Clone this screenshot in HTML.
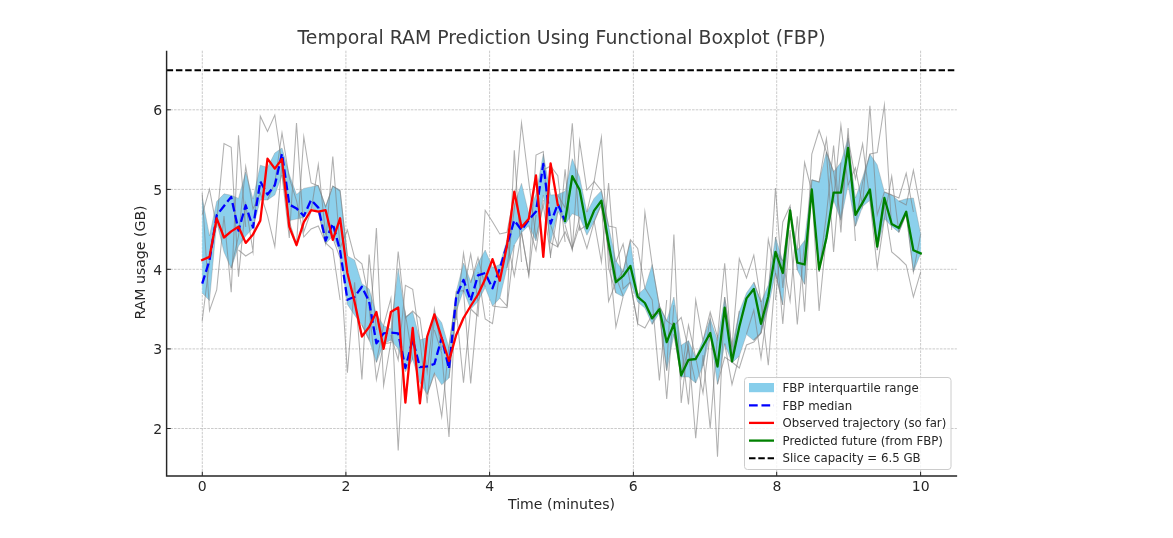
<!DOCTYPE html>
<html><head><meta charset="utf-8"><title>Temporal RAM Prediction</title>
<style>html,body{margin:0;padding:0;background:#fff;overflow:hidden}body{width:1173px;height:538px;position:relative}</style></head>
<body>
<svg width="1173" height="538" viewBox="0 0 1173 538" style="position:absolute;left:0;top:0;font-family:'DejaVu Sans','Liberation Sans',sans-serif">
<rect width="1173" height="538" fill="#fff"/>
<g stroke="#b4b4b4" stroke-width="0.7" stroke-dasharray="2.6 1.1" fill="none"><line x1="202.3" y1="50.7" x2="202.3" y2="475.9"/><line x1="345.9" y1="50.7" x2="345.9" y2="475.9"/><line x1="489.6" y1="50.7" x2="489.6" y2="475.9"/><line x1="633.4" y1="50.7" x2="633.4" y2="475.9"/><line x1="776.7" y1="50.7" x2="776.7" y2="475.9"/><line x1="920.6" y1="50.7" x2="920.6" y2="475.9"/><line x1="166.6" y1="428.5" x2="956.9" y2="428.5"/><line x1="166.6" y1="348.9" x2="956.9" y2="348.9"/><line x1="166.6" y1="269.3" x2="956.9" y2="269.3"/><line x1="166.6" y1="189.4" x2="956.9" y2="189.4"/><line x1="166.6" y1="109.8" x2="956.9" y2="109.8"/></g>
<polygon points="202.2,197.6 209.5,236.0 216.7,201.5 224.0,193.8 231.2,195.3 238.5,198.4 245.7,172.0 253.0,199.0 260.3,165.2 267.5,167.5 274.8,153.0 282.0,148.0 289.3,174.6 296.5,194.5 303.8,188.4 311.1,186.9 318.3,185.3 325.6,206.8 332.8,186.1 340.1,190.0 347.4,256.0 354.6,260.0 361.9,283.7 369.1,289.0 376.4,313.7 383.6,325.7 390.9,329.0 398.2,268.4 405.4,316.7 412.7,312.0 419.9,340.0 427.2,337.6 434.4,313.3 441.7,322.7 449.0,348.0 456.2,292.0 463.5,263.0 470.7,281.4 478.0,263.0 485.2,250.0 492.5,267.6 499.8,264.5 507.0,240.0 514.3,205.0 521.5,183.4 528.8,214.0 536.0,194.0 543.3,154.0 550.6,195.0 557.8,194.5 565.1,191.3 572.3,158.7 579.6,176.9 586.9,212.2 594.1,198.4 601.4,190.7 608.6,226.0 615.9,260.7 623.1,271.4 630.4,240.7 637.7,294.4 644.9,288.3 652.2,264.5 659.4,306.0 666.7,320.7 673.9,297.0 681.2,345.2 688.5,340.6 695.7,357.5 703.0,340.0 710.2,318.4 717.5,340.6 724.7,297.0 732.0,346.8 739.3,311.5 746.5,293.0 753.8,282.5 761.0,302.0 768.3,285.0 775.5,237.2 782.8,261.0 790.1,207.0 797.3,250.3 804.6,240.5 811.8,179.6 819.1,181.9 826.4,151.8 833.6,171.7 840.9,162.5 848.1,138.0 855.4,198.0 862.6,177.5 869.9,154.0 877.2,164.8 884.4,191.9 891.7,194.9 898.9,201.0 906.2,198.8 913.4,198.0 920.7,234.0 920.7,253.4 913.4,271.8 906.2,214.0 898.9,232.5 891.7,226.4 884.4,218.7 877.2,250.3 869.9,200.3 862.6,206.4 855.4,226.4 848.1,185.0 840.9,220.2 833.6,200.3 826.4,241.0 819.1,272.0 811.8,191.0 804.6,284.5 797.3,270.0 790.1,213.5 782.8,304.8 775.5,273.0 768.3,307.0 761.0,333.0 753.8,340.6 746.5,334.5 739.3,356.0 732.0,362.9 724.7,343.7 717.5,384.5 710.2,334.5 703.0,366.0 695.7,383.0 688.5,377.0 681.2,377.0 673.9,334.5 666.7,370.6 659.4,313.0 652.2,324.5 644.9,308.0 637.7,302.0 630.4,282.0 623.1,296.7 615.9,293.0 608.6,250.0 601.4,204.5 594.1,221.4 586.9,235.2 579.6,216.8 572.3,213.7 565.1,224.6 557.8,211.0 550.6,243.0 543.3,195.0 536.0,241.0 528.8,225.5 521.5,232.8 514.3,245.0 507.0,267.6 499.8,298.3 492.5,306.0 485.2,287.6 478.0,301.4 470.7,309.0 463.5,290.6 456.2,311.0 449.0,378.0 441.7,384.8 434.4,373.3 427.2,394.5 419.9,382.5 412.7,359.5 405.4,371.8 398.2,348.8 390.9,340.0 383.6,344.0 376.4,362.6 369.1,339.5 361.9,325.0 354.6,315.2 347.4,304.4 340.1,252.0 332.8,236.0 325.6,243.7 318.3,211.0 311.1,208.0 303.8,217.6 296.5,219.0 289.3,220.6 282.0,175.0 274.8,195.0 267.5,200.0 260.3,200.0 253.0,228.0 245.7,236.0 238.5,246.0 231.2,268.4 224.0,252.0 216.7,222.0 209.5,300.6 202.2,293.0" fill="#87ceeb" fill-opacity="0.96"/>
<g stroke="#808080" stroke-opacity="0.62" stroke-width="1.05" fill="none" stroke-linejoin="miter" stroke-miterlimit="10">
<polyline points="202.2,193.3 209.5,310.6 216.7,290.0 224.0,216.0 231.2,292.2 238.5,135.3 245.7,227.0"/>
<polyline points="202.2,214.6 209.5,189.2 216.7,227.7"/>
<polyline points="202.2,321.0 209.5,262.0 216.7,222.0"/>
<polyline points="216.7,222.0 224.0,143.6 231.2,147.3 238.5,276.8 245.7,204.4 253.0,251.5 260.3,116.2 267.5,131.5 274.8,115.0 282.0,164.0 289.3,205.0"/>
<polyline points="231.2,268.4 238.5,236.0 245.7,166.5 253.0,209.0 260.3,193.0 267.5,215.7 274.8,246.6 282.0,163.0 289.3,222.0"/>
<polyline points="238.5,250.0 245.7,256.0 253.0,251.5"/>
<polyline points="267.5,200.0 274.8,183.0 282.0,133.0 289.3,178.0 296.5,200.7 303.8,237.0 311.1,229.0 318.3,226.0 325.6,243.0 332.8,249.5 340.1,300.0"/>
<polyline points="282.0,175.0 289.3,238.0 296.5,123.1 303.8,232.0 311.1,211.0 318.3,164.6 325.6,234.5"/>
<polyline points="289.3,222.0 296.5,244.0 303.8,137.0 311.1,183.0 318.3,186.0 325.6,207.0 332.8,186.0 340.1,191.0 347.4,256.0"/>
<polyline points="318.3,212.0 325.6,243.5 332.8,156.6 340.1,248.0 347.4,230.0 354.6,257.6 361.9,263.8 369.1,300.0"/>
<polyline points="332.8,238.0 340.1,258.0 347.4,372.8 354.6,282.3 361.9,379.4 369.1,254.6 376.4,330.0"/>
<polyline points="361.9,325.0 369.1,340.0 376.4,228.0 383.6,385.6 390.9,342.0"/>
<polyline points="369.1,307.0 376.4,379.6 383.6,344.0"/>
<polyline points="376.4,362.0 383.6,325.7 390.9,298.3 398.2,450.5 405.4,314.0 412.7,359.5"/>
<polyline points="383.6,344.0 390.9,342.6 398.2,251.5 405.4,318.0 412.7,311.0 419.9,318.0 427.2,372.0 434.4,309.0 441.7,350.0"/>
<polyline points="390.9,335.0 398.2,360.0 405.4,285.3 412.7,289.4 419.9,340.0 427.2,403.3 434.4,318.0"/>
<polyline points="427.2,394.5 434.4,373.5 441.7,416.5 449.0,345.0 456.2,296.0"/>
<polyline points="434.4,330.0 441.7,353.0 449.0,437.0 456.2,291.7 463.5,290.6 470.7,383.4 478.0,301.4"/>
<polyline points="449.0,378.0 456.2,309.0 463.5,382.6 470.7,309.0 478.0,316.0 485.2,210.3 492.5,221.8 499.8,234.0 507.0,232.2 514.3,195.0"/>
<polyline points="456.2,320.0 463.5,253.2 470.7,300.0"/>
<polyline points="463.5,292.0 470.7,254.0 478.0,301.0"/>
<polyline points="470.7,283.0 478.0,257.5 485.2,287.0"/>
<polyline points="478.0,272.0 485.2,319.0 492.5,323.6 499.8,272.0"/>
<polyline points="492.5,306.0 499.8,307.0 507.0,307.6 514.3,245.0"/>
<polyline points="499.8,298.0 507.0,306.0 514.3,150.3 521.5,262.0"/>
<polyline points="507.0,268.0 514.3,209.0 521.5,123.0 528.8,182.0 536.0,238.0 543.3,205.0 550.6,255.3 557.8,212.0"/>
<polyline points="507.0,240.0 514.3,275.9 521.5,232.0 528.8,275.0 536.0,215.0"/>
<polyline points="521.5,233.0 528.8,275.3 536.0,155.0 543.3,151.5 550.6,258.0"/>
<polyline points="528.8,226.0 536.0,250.5 543.3,200.0"/>
<polyline points="543.3,170.0 550.6,166.0 557.8,175.8 565.1,242.0"/>
<polyline points="550.6,225.0 557.8,246.5 565.1,231.8 572.3,248.5 579.6,225.7 586.9,248.5 594.1,222.0 601.4,204.5 608.6,250.0"/>
<polyline points="550.6,243.0 557.8,247.0 565.1,169.3 572.3,248.4 579.6,217.0"/>
<polyline points="557.8,195.0 565.1,207.8 572.3,123.4 579.6,230.0 586.9,225.0"/>
<polyline points="565.1,225.0 572.3,250.0 579.6,141.0 586.9,190.0 594.1,181.5 601.4,137.2 608.6,268.0 615.9,293.0"/>
<polyline points="594.1,221.0 601.4,262.0 608.6,183.0 615.9,277.0 623.1,296.0"/>
<polyline points="586.9,212.0 594.1,181.5 601.4,190.7 608.6,226.0 615.9,227.6 623.1,289.0 630.4,282.0"/>
<polyline points="601.4,204.5 608.6,301.4 615.9,282.0 623.1,271.0"/>
<polyline points="601.4,200.0 608.6,250.0 615.9,327.0 623.1,296.7"/>
<polyline points="615.9,262.0 623.1,244.0 630.4,284.0 637.7,324.0 644.9,328.0 652.2,314.8 659.4,313.0"/>
<polyline points="623.1,272.0 630.4,239.7 637.7,248.5 644.9,288.0 652.2,300.0 659.4,380.5 666.7,300.0"/>
<polyline points="630.4,283.0 637.7,323.0 644.9,212.3 652.2,265.0 659.4,306.0 666.7,321.0 673.9,326.0 681.2,317.5 688.5,350.0 695.7,383.0"/>
<polyline points="652.2,324.0 659.4,305.0 666.7,399.0 673.9,305.0"/>
<polyline points="659.4,313.0 666.7,370.6 673.9,234.5 681.2,403.0 688.5,341.0"/>
<polyline points="673.9,334.0 681.2,377.0 688.5,325.3 695.7,357.5 703.0,393.0 710.2,334.0"/>
<polyline points="681.2,345.0 688.5,404.5 695.7,300.0 703.0,341.0 710.2,312.0 717.5,337.0 724.7,263.3 732.0,357.0 739.3,311.0"/>
<polyline points="681.2,377.0 688.5,347.0 695.7,438.3 703.0,355.0 710.2,428.4 717.5,335.0"/>
<polyline points="703.0,366.0 710.2,318.0 717.5,456.8 724.7,297.0 732.0,347.0 739.3,258.7 746.5,278.0 753.8,255.2 761.0,302.0"/>
<polyline points="717.5,384.0 724.7,357.0 732.0,362.0 739.3,368.0 746.5,345.0 753.8,342.0 761.0,333.0"/>
<polyline points="724.7,343.7 732.0,384.5 739.3,356.0"/>
<polyline points="746.5,334.0 753.8,310.0 761.0,358.2 768.3,300.0"/>
<polyline points="753.8,282.0 761.0,302.0 768.3,365.2 775.5,273.0"/>
<polyline points="753.8,340.0 761.0,333.0 768.3,239.5 775.5,273.0 782.8,304.8"/>
<polyline points="761.0,333.0 768.3,300.0 775.5,188.0 782.8,288.0 790.1,213.0"/>
<polyline points="775.5,300.0 782.8,222.0 790.1,205.7 797.3,270.0"/>
<polyline points="775.5,237.0 782.8,324.0 790.1,230.0 797.3,324.5 804.6,240.5"/>
<polyline points="775.5,251.0 782.8,261.0 790.1,301.0 797.3,216.4 804.6,311.7 811.8,180.0"/>
<polyline points="797.3,250.0 804.6,162.5 811.8,191.0 819.1,311.0 826.4,235.0"/>
<polyline points="804.6,284.0 811.8,154.0 819.1,130.3 826.4,151.8 833.6,251.9 840.9,162.5"/>
<polyline points="811.8,180.0 819.1,182.0 826.4,138.7 833.6,200.0 840.9,125.0 848.1,185.0"/>
<polyline points="819.1,272.0 826.4,215.0 833.6,145.6 840.9,232.5 848.1,128.0 855.4,241.0"/>
<polyline points="826.4,152.0 833.6,171.7 840.9,220.0 848.1,138.0 855.4,178.8 862.6,144.0 869.9,200.0"/>
<polyline points="848.1,185.0 855.4,167.9 862.6,206.0 869.9,105.7 877.2,215.0 884.4,192.0"/>
<polyline points="855.4,226.0 862.6,182.0 869.9,154.0 877.2,152.5 884.4,105.0 891.7,230.0"/>
<polyline points="869.9,200.0 877.2,268.0 884.4,218.7 891.7,176.4 898.9,232.5"/>
<polyline points="877.2,250.0 884.4,205.0 891.7,251.9 898.9,258.0 906.2,265.0 913.4,297.0 920.7,271.8"/>
<polyline points="884.4,192.0 891.7,195.0 898.9,198.0 906.2,173.3 913.4,212.0"/>
<polyline points="898.9,201.0 906.2,205.0 913.4,170.3 920.7,209.5"/>
<polyline points="898.9,232.0 906.2,214.0 913.4,271.8 920.7,234.0"/>
</g>
<g stroke="#808080" stroke-opacity="0.32" stroke-width="1" fill="none">
<polyline points="202.2,197.6 209.5,236.0 216.7,201.5 224.0,193.8 231.2,195.3 238.5,198.4 245.7,172.0 253.0,199.0 260.3,165.2 267.5,167.5 274.8,153.0 282.0,148.0 289.3,174.6 296.5,194.5 303.8,188.4 311.1,186.9 318.3,185.3 325.6,206.8 332.8,186.1 340.1,190.0 347.4,256.0 354.6,260.0 361.9,283.7 369.1,289.0 376.4,313.7 383.6,325.7 390.9,329.0 398.2,268.4 405.4,316.7 412.7,312.0 419.9,340.0 427.2,337.6 434.4,313.3 441.7,322.7 449.0,348.0 456.2,292.0 463.5,263.0 470.7,281.4 478.0,263.0 485.2,250.0 492.5,267.6 499.8,264.5 507.0,240.0 514.3,205.0 521.5,183.4 528.8,214.0 536.0,194.0 543.3,154.0 550.6,195.0 557.8,194.5 565.1,191.3 572.3,158.7 579.6,176.9 586.9,212.2 594.1,198.4 601.4,190.7 608.6,226.0 615.9,260.7 623.1,271.4 630.4,240.7 637.7,294.4 644.9,288.3 652.2,264.5 659.4,306.0 666.7,320.7 673.9,297.0 681.2,345.2 688.5,340.6 695.7,357.5 703.0,340.0 710.2,318.4 717.5,340.6 724.7,297.0 732.0,346.8 739.3,311.5 746.5,293.0 753.8,282.5 761.0,302.0 768.3,285.0 775.5,237.2 782.8,261.0 790.1,207.0 797.3,250.3 804.6,240.5 811.8,179.6 819.1,181.9 826.4,151.8 833.6,171.7 840.9,162.5 848.1,138.0 855.4,198.0 862.6,177.5 869.9,154.0 877.2,164.8 884.4,191.9 891.7,194.9 898.9,201.0 906.2,198.8 913.4,198.0 920.7,234.0"/>
<polyline points="202.2,293.0 209.5,300.6 216.7,222.0 224.0,252.0 231.2,268.4 238.5,246.0 245.7,236.0 253.0,228.0 260.3,200.0 267.5,200.0 274.8,195.0 282.0,175.0 289.3,220.6 296.5,219.0 303.8,217.6 311.1,208.0 318.3,211.0 325.6,243.7 332.8,236.0 340.1,252.0 347.4,304.4 354.6,315.2 361.9,325.0 369.1,339.5 376.4,362.6 383.6,344.0 390.9,340.0 398.2,348.8 405.4,371.8 412.7,359.5 419.9,382.5 427.2,394.5 434.4,373.3 441.7,384.8 449.0,378.0 456.2,311.0 463.5,290.6 470.7,309.0 478.0,301.4 485.2,287.6 492.5,306.0 499.8,298.3 507.0,267.6 514.3,245.0 521.5,232.8 528.8,225.5 536.0,241.0 543.3,195.0 550.6,243.0 557.8,211.0 565.1,224.6 572.3,213.7 579.6,216.8 586.9,235.2 594.1,221.4 601.4,204.5 608.6,250.0 615.9,293.0 623.1,296.7 630.4,282.0 637.7,302.0 644.9,308.0 652.2,324.5 659.4,313.0 666.7,370.6 673.9,334.5 681.2,377.0 688.5,377.0 695.7,383.0 703.0,366.0 710.2,334.5 717.5,384.5 724.7,343.7 732.0,362.9 739.3,356.0 746.5,334.5 753.8,340.6 761.0,333.0 768.3,307.0 775.5,273.0 782.8,304.8 790.1,213.5 797.3,270.0 804.6,284.5 811.8,191.0 819.1,272.0 826.4,241.0 833.6,200.3 840.9,220.2 848.1,185.0 855.4,226.4 862.6,206.4 869.9,200.3 877.2,250.3 884.4,218.7 891.7,226.4 898.9,232.5 906.2,214.0 913.4,271.8 920.7,253.4"/>
</g>
<polyline points="202.2,283.7 209.5,260.3 216.7,215.3 224.0,206.0 231.2,196.9 238.5,230.6 245.7,205.3 253.0,227.5 260.3,181.5 267.5,194.5 274.8,185.3 282.0,153.7 289.3,204.5 296.5,208.4 303.8,216.0 311.1,199.9 318.3,207.6 325.6,240.6 332.8,223.7 340.1,250.7 347.4,299.8 354.6,296.8 361.9,286.8 369.1,301.4 376.4,343.4 383.6,333.4 390.9,332.6 398.2,333.4 405.4,368.0 412.7,339.5 419.9,367.2 427.2,366.4 434.4,364.0 441.7,338.0 449.0,368.7 456.2,296.8 463.5,279.9 470.7,300.6 478.0,275.3 485.2,273.0 492.5,288.3 499.8,268.4 507.0,245.0 514.3,220.4 521.5,230.0 528.8,220.0 536.0,211.5 543.3,164.0 550.6,223.5 557.8,204.0 565.1,221.0" fill="none" stroke="#0000ff" stroke-width="2.3" stroke-dasharray="8.7 3.76" stroke-linejoin="round"/>
<polyline points="202.2,260.0 209.5,256.9 216.7,218.3 224.0,237.5 231.2,231.4 238.5,226.8 245.7,242.9 253.0,234.4 260.3,220.6 267.5,158.6 274.8,168.6 282.0,159.0 289.3,226.8 296.5,245.2 303.8,222.2 311.1,210.2 318.3,211.7 325.6,210.2 332.8,239.8 340.1,218.3 347.4,273.0 354.6,302.0 361.9,336.5 369.1,327.0 376.4,312.0 383.6,348.8 390.9,312.0 398.2,307.5 405.4,402.6 412.7,328.0 419.9,403.4 427.2,336.5 434.4,314.4 441.7,338.0 449.0,361.0 456.2,335.0 463.5,318.0 470.7,306.0 478.0,294.5 485.2,279.0 492.5,259.2 499.8,280.7 507.0,245.5 514.3,191.7 521.5,227.3 528.8,218.8 536.0,175.5 543.3,256.9 550.6,163.4 557.8,205.0" fill="none" stroke="#ff0000" stroke-width="2.3" stroke-linejoin="round" stroke-linecap="square"/>
<polyline points="565.1,221.0 572.3,176.2 579.6,189.9 586.9,228.3 594.1,210.6 601.4,200.7 608.6,243.0 615.9,282.2 623.1,276.0 630.4,266.0 637.7,296.8 644.9,303.0 652.2,318.4 659.4,309.2 666.7,342.2 673.9,323.8 681.2,375.3 688.5,359.8 695.7,359.0 703.0,346.0 710.2,333.0 717.5,366.5 724.7,307.6 732.0,361.4 739.3,326.8 746.5,298.4 753.8,289.0 761.0,323.8 768.3,296.5 775.5,251.8 782.8,273.0 790.1,210.3 797.3,262.6 804.6,264.5 811.8,189.5 819.1,269.5 826.4,238.0 833.6,192.6 840.9,192.6 848.1,148.0 855.4,214.9 862.6,202.6 869.9,189.5 877.2,246.5 884.4,198.0 891.7,224.0 898.9,228.0 906.2,211.8 913.4,250.3 920.7,253.4" fill="none" stroke="#008000" stroke-width="2.3" stroke-linejoin="round" stroke-linecap="square"/>
<line x1="166.6" y1="70.2" x2="956.9" y2="70.2" stroke="#000" stroke-width="1.85" stroke-dasharray="6.5 2.8"/>
<path d="M166.6 51.400000000000006 V475.9 H956.4" fill="none" stroke="#262626" stroke-width="1.45" stroke-linecap="square"/>
<g stroke="#262626" stroke-width="1"><line x1="202.3" y1="475.9" x2="202.3" y2="471.7"/><line x1="345.9" y1="475.9" x2="345.9" y2="471.7"/><line x1="489.6" y1="475.9" x2="489.6" y2="471.7"/><line x1="633.4" y1="475.9" x2="633.4" y2="471.7"/><line x1="776.7" y1="475.9" x2="776.7" y2="471.7"/><line x1="920.6" y1="475.9" x2="920.6" y2="471.7"/><line x1="166.6" y1="428.5" x2="170.79999999999998" y2="428.5"/><line x1="166.6" y1="348.9" x2="170.79999999999998" y2="348.9"/><line x1="166.6" y1="269.3" x2="170.79999999999998" y2="269.3"/><line x1="166.6" y1="189.4" x2="170.79999999999998" y2="189.4"/><line x1="166.6" y1="109.8" x2="170.79999999999998" y2="109.8"/></g>
<g font-size="14px" fill="#262626">
<text x="202.2" y="490.8" text-anchor="middle">0</text>
<text x="345.9" y="490.8" text-anchor="middle">2</text>
<text x="489.6" y="490.8" text-anchor="middle">4</text>
<text x="633.3" y="490.8" text-anchor="middle">6</text>
<text x="777.0" y="490.8" text-anchor="middle">8</text>
<text x="920.7" y="490.8" text-anchor="middle">10</text>
<text x="162.1" y="434.1" text-anchor="end">2</text>
<text x="162.1" y="354.4" text-anchor="end">3</text>
<text x="162.1" y="274.6" text-anchor="end">4</text>
<text x="162.1" y="194.8" text-anchor="end">5</text>
<text x="162.1" y="115.1" text-anchor="end">6</text>
</g>
<text x="561.5" y="509.3" text-anchor="middle" font-size="14.1px" fill="#262626">Time (minutes)</text>
<text transform="translate(145 262.5) rotate(-90)" text-anchor="middle" font-size="14.1px" fill="#262626">RAM usage (GB)</text>
<text x="561.5" y="43.8" text-anchor="middle" font-size="18.85px" fill="#3a3a3a">Temporal RAM Prediction Using Functional Boxplot (FBP)</text>
<rect x="744.5" y="377.5" width="206.5" height="92" rx="3" ry="3" fill="#fff" fill-opacity="0.8" stroke="#cccccc" stroke-width="1"/>
<rect x="749" y="383.0" width="25" height="9.2" fill="#87ceeb"/>
<line x1="749" y1="405.3" x2="774" y2="405.3" stroke="#0000ff" stroke-width="2.3" stroke-dasharray="8.7 3.76"/>
<line x1="749" y1="422.9" x2="774" y2="422.9" stroke="#ff0000" stroke-width="2.3"/>
<line x1="749" y1="440.6" x2="774" y2="440.6" stroke="#008000" stroke-width="2.3"/>
<line x1="749" y1="458.2" x2="774" y2="458.2" stroke="#000" stroke-width="1.85" stroke-dasharray="6.5 2.8"/>
<g font-size="11.78px" fill="#262626">
<text x="782.5" y="391.8">FBP interquartile range</text>
<text x="782.5" y="409.5">FBP median</text>
<text x="782.5" y="427.1">Observed trajectory (so far)</text>
<text x="782.5" y="444.8">Predicted future (from FBP)</text>
<text x="782.5" y="462.4">Slice capacity = 6.5 GB</text>
</g>
</svg>
</body></html>
